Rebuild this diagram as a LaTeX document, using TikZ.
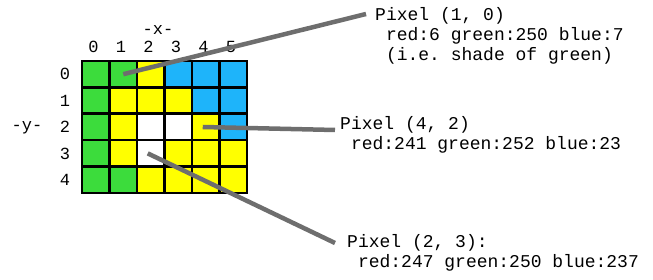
\documentclass[tikz,border=0pt]{standalone}
\usepackage{fontspec}
\setmonofont{Liberation Mono}
\definecolor{pxg}{RGB}{60,220,60}
\definecolor{pxy}{RGB}{255,255,0}
\definecolor{pxb}{RGB}{30,180,250}
\definecolor{pxw}{RGB}{255,255,255}
\definecolor{pointergray}{RGB}{110,110,110}
\begin{document}
\begin{tikzpicture}[x=1pt, y=-1pt,
    cell/.style={draw=black, line width=2.6pt, rectangle, inner sep=0pt,
                 minimum width=27.5pt, minimum height=26.4pt},
    axis/.style={font=\ttfamily\fontsize{17}{20}\selectfont, inner sep=0pt},
    lbl/.style={font=\ttfamily\fontsize{18}{20}\selectfont, align=left,
                anchor=north west, inner sep=0pt},
    pointer/.style={draw=pointergray, line width=4.5pt}]
    \useasboundingbox (0,0) rectangle (653,280);
    % pixel grid
    \foreach \row [count=\y from 0] in {{g,g,y,b,b,b},{g,y,y,y,b,b},{g,y,w,w,y,b},{g,y,w,y,y,y},{g,g,y,y,y,y}}
        \foreach \c [count=\x from 0] in \row
            \node[cell, fill=px\c] (c\x\y) at ({95.75+27.5*\x},{74.2+26.4*\y}) {};
    % axes
    \node[axis] (xaxis) at (158,30) {-x-};
    \node[axis] (yaxis) at (27,128) {-y-};
    \foreach \i in {0,...,5}
        \node[axis] (col\i) at ({93.5+27.5*\i},47) {\i};
    \foreach \i in {0,...,4}
        \node[axis] (row\i) at (65,{74.2+26.4*\i}) {\i};
    % labels
    \node[lbl] (lblA) at (375,7) {Pixel (1, 0)\\~red:6 green:250 blue:7\\~(i.e. shade of green)};
    \node[lbl] (lblB) at (340,116) {Pixel (4, 2)\\~red:241 green:252 blue:23};
    \node[lbl] (lblC) at (347,234) {Pixel (2, 3):\\~red:247 green:250 blue:237};
    \draw[pointer] (c10.center) -- ([shift={(-9,7)}]lblA.north west);
    \draw[pointer] ([xshift=-3pt]c42.center) -- ([shift={(-5,14)}]lblB.north west);
    \draw[pointer] ([xshift=-3pt]c23.center) -- ([shift={(-12,9)}]lblC.north west);
\end{tikzpicture}
\end{document}
